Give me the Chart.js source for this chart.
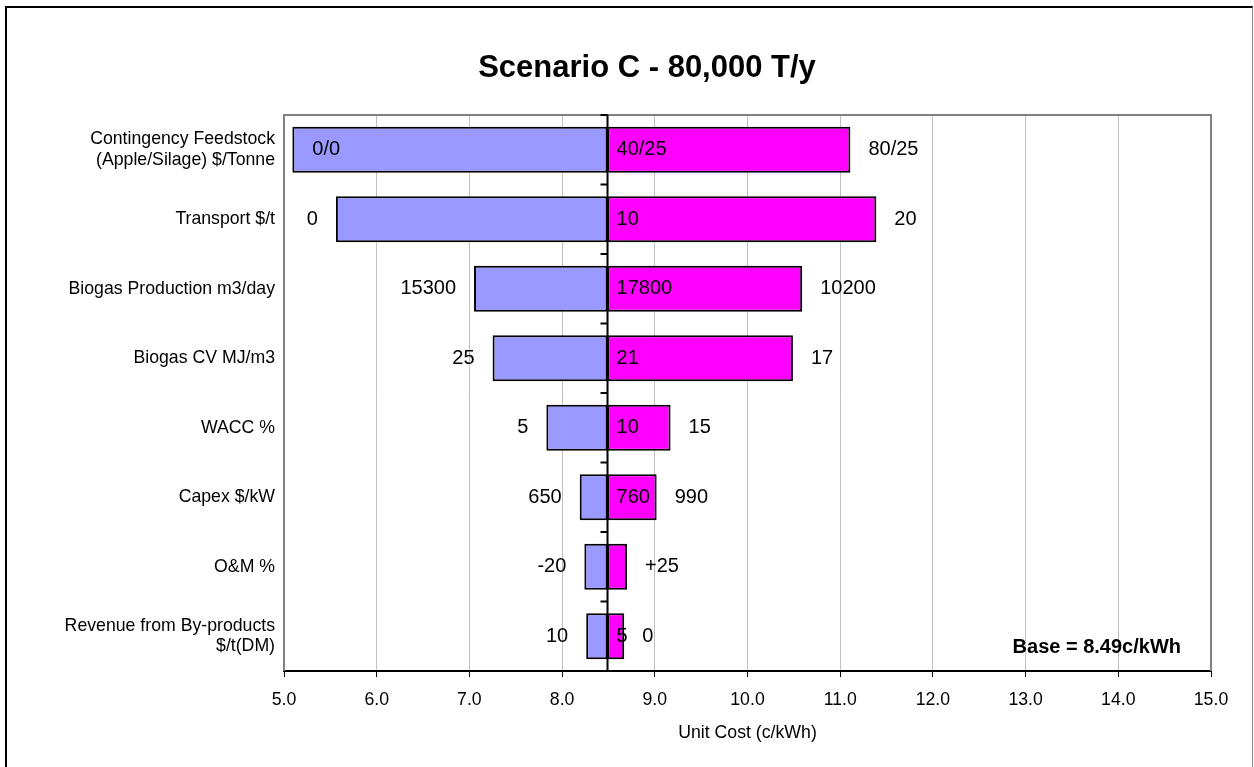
<!DOCTYPE html>
<html>
<head>
<meta charset="utf-8">
<title>Scenario C - 80,000 T/y</title>
<script src="https://cdn.jsdelivr.net/npm/chart.js@4.4.0/dist/chart.umd.min.js"></script>
<style>
    html, body { margin: 0; padding: 0; background: #fff; overflow: hidden; }
    #frame {
        position: absolute; left: 5px; top: 6px; width: 1245px; height: 800px;
        border-left: 2px solid #000; border-top: 2px solid #000; border-right: 1px solid #888;
    }
    #tornado { position: absolute; left: 0; top: 0; }
</style>
</head>
<body>
<div id="frame"></div>
<canvas id="tornado" width="1254" height="767"></canvas>
<script>
// Sensitivity drivers, top to bottom
const drivers = [
    ['Contingency Feedstock', '(Apple/Silage) $/Tonne'],
    'Transport $/t',
    'Biogas Production m3/day',
    'Biogas CV MJ/m3',
    'WACC %',
    'Capex $/kW',
    'O&M %',
    ['Revenue from By-products', '$/t(DM)']
];

const chartTitle = 'Scenario C - 80,000 T/y';
const baseCost = 8.49;  // c/kWh

// unit cost at the low / high end of each driver
const lowCost  = [5.09, 5.56, 7.05, 7.25, 7.83, 8.19, 8.24, 8.26];
const highCost = [11.11, 11.39, 10.59, 10.49, 9.17, 9.02, 8.70, 8.67];

// input values written beside the bars
const lowInputs  = ['0/0', '0', '15300', '25', '5', '650', '-20', '10'];
const baseInputs = ['40/25', '10', '17800', '21', '10', '760', '', '5'];
const highInputs = ['80/25', '20', '10200', '17', '15', '990', '+25', '0'];

const xTicks = { min: 5, max: 15, step: 1 };

const FONT = "'Liberation Sans', Arial, sans-serif";
Chart.defaults.font.family = FONT;
Chart.defaults.color = '#000';

const tornadoDecor = {
    id: 'tornadoDecor',
    beforeDatasetsDraw(chart) {
        const { ctx, chartArea: a } = chart;
        ctx.save();
        // plot frame (bottom edge is the x axis)
        ctx.strokeStyle = '#808080';
        ctx.lineWidth = 2;
        ctx.beginPath();
        ctx.moveTo(a.left, a.bottom);
        ctx.lineTo(a.left, a.top);
        ctx.lineTo(a.right, a.top);
        ctx.lineTo(a.right, a.bottom);
        ctx.stroke();

        // title, sits a little right of the canvas centre
        ctx.font = 'bold 31px ' + FONT;
        ctx.fillStyle = '#000';
        ctx.textAlign = 'center';
        ctx.textBaseline = 'middle';
        ctx.fillText(chartTitle, chart.width / 2 + 20, 68);
        ctx.restore();
    },
    afterDatasetsDraw(chart) {
        const { ctx, chartArea: a, scales: { x, y } } = chart;
        const bx = x.getPixelForValue(baseCost);
        ctx.save();

        // base line with category ticks
        ctx.strokeStyle = '#000';
        ctx.lineWidth = 2;
        ctx.beginPath();
        ctx.moveTo(bx, a.top);
        ctx.lineTo(bx, a.bottom);
        for (let i = 0; i <= drivers.length; i++) {
            const ty = y.getPixelForValue(i - 0.5);
            ctx.moveTo(bx - 7, ty);
            ctx.lineTo(bx, ty);
        }
        ctx.stroke();

        // input labels
        ctx.font = '20px ' + FONT;
        ctx.fillStyle = '#000';
        ctx.textBaseline = 'middle';
        drivers.forEach((_, i) => {
            const cy = y.getPixelForValue(i);
            const lx = x.getPixelForValue(lowCost[i]);
            const hx = x.getPixelForValue(highCost[i]);
            const w = ctx.measureText(lowInputs[i]).width;
            if (lx - 18 - w < a.left) {
                ctx.textAlign = 'left';
                ctx.fillText(lowInputs[i], lx + 20, cy);
            } else {
                ctx.textAlign = 'right';
                ctx.fillText(lowInputs[i], lx - 18, cy);
            }
            ctx.textAlign = 'left';
            ctx.fillText(baseInputs[i], bx + 9, cy);
            ctx.fillText(highInputs[i], hx + 18, cy);
        });

        ctx.font = 'bold 20px ' + FONT;
        ctx.textAlign = 'right';
        ctx.fillText('Base = ' + baseCost.toFixed(2) + 'c/kWh', a.right - 30, a.bottom - 24);
        ctx.restore();
    }
};

const barStyle = {
    borderColor: '#000',
    borderWidth: 2,
    borderSkipped: false,
    grouped: false,
    barPercentage: 0.66,
    categoryPercentage: 1
};

new Chart(document.getElementById('tornado'), {
    type: 'bar',
    data: {
        labels: drivers,
        datasets: [
            { label: 'Low', data: lowCost.map(v => [v, baseCost]), backgroundColor: '#9999ff', ...barStyle },
            { label: 'High', data: highCost.map(v => [baseCost, v]), backgroundColor: '#ff00ff', ...barStyle }
        ]
    },
    options: {
        indexAxis: 'y',
        responsive: false,
        animation: false,
        layout: { padding: { left: 0, right: 43, top: 115, bottom: 0 } },
        scales: {
            x: {
                type: 'linear',
                min: xTicks.min,
                max: xTicks.max,
                ticks: {
                    stepSize: xTicks.step,
                    callback: v => v.toFixed(1),
                    font: { size: 17.7 },
                    padding: 12
                },
                grid: { color: '#c0c0c0', lineWidth: 1, tickColor: '#000', tickLength: 6 },
                border: { color: '#000', width: 2 },
                title: {
                    display: true,
                    text: 'Unit Cost (c/kWh)',
                    font: { size: 17.7 },
                    padding: { top: 10, bottom: 23 }
                },
                afterFit(s) { s.height = 96; }
            },
            y: {
                grid: { display: false, drawTicks: false },
                border: { display: false },
                ticks: { font: { size: 17.7, lineHeight: 1.15 }, padding: 9, autoSkip: false },
                afterFit(s) { s.width = 284; }
            }
        },
        plugins: {
            legend: { display: false },
            tooltip: { enabled: false },
            title: { display: false }
        }
    },
    plugins: [tornadoDecor]
});
</script>
</body>
</html>
